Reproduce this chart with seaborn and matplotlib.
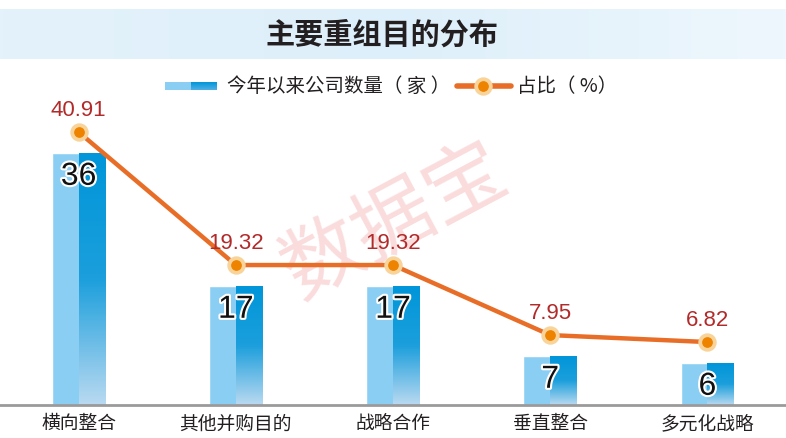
import numpy as np
import pandas as pd
import seaborn as sns
import matplotlib.pyplot as plt
import matplotlib.patheffects as pe
from matplotlib.colors import LinearSegmentedColormap
from matplotlib.patches import Rectangle
from matplotlib.lines import Line2D

categories = ['横向整合', '其他并购目的', '战略合作', '垂直整合', '多元化战略']
counts = [36, 17, 17, 7, 6]
pcts = [40.91, 19.32, 19.32, 7.95, 6.82]
pct_labels = ['40.91', '19.32', '19.32', '7.95', '6.82']

sns.set_style('white')
plt.rcParams['font.family'] = ['Noto Sans CJK SC', 'DejaVu Sans']

W, H = 786, 438
fig = plt.figure(figsize=(W / 100, H / 100), dpi=100)

# title band
band = fig.add_axes([0, 1 - 59 / H, 1, 50 / H])
band_cmap = LinearSegmentedColormap.from_list('band', ['#e4f2fb', '#ddeffa', '#eef7fd'])
band.imshow(np.linspace(0, 1, 256)[None, :], aspect='auto', cmap=band_cmap, extent=[0, 1, 0, 1])
band.axis('off')
fig.text(382 / W, 1 - 35 / H, '主要重组目的分布', ha='center', va='center',
         fontsize=21, fontweight='bold', color='#231f20')

# watermark
fig.text(395 / W, 1 - 222 / H, '数据宝', rotation=28, ha='center', va='center',
         fontsize=58, color='#fadcdc', zorder=-1)

# legend drawn by hand
leg = fig.add_axes([0, 0, 1, 1])
leg.patch.set_visible(False)
leg.axis('off')
leg.add_patch(Rectangle((165, 82), 26, 8, color='#8acff3', lw=0))
leg_cmap = LinearSegmentedColormap.from_list('lg', ['#0096d9', '#4fb0e4'])
leg.imshow(np.linspace(0, 1, 50)[:, None], aspect='auto', cmap=leg_cmap, extent=[191, 217, 90, 82])
leg.text(227, 86, '今年以来公司数量（ 家 ）', va='center', fontsize=14, color='#231f20')
leg.add_line(Line2D([457, 511], [86, 86], color='#e86e28', lw=4, solid_capstyle='round'))
leg.scatter([483], [86], s=150, color='#f8d49a', zorder=3)
leg.scatter([483], [86], s=45, color='#ee8300', zorder=4)
leg.text(517, 86, '占比（ %）', va='center', fontsize=14, color='#231f20')
leg.set_xlim(0, W)
leg.set_ylim(H, 0)

# main chart
ax = fig.add_axes([0, 1 - 405 / H, 1, 295 / H])
ax.patch.set_alpha(0)
df = pd.DataFrame({'cat': categories, 'count': counts})
sns.barplot(data=df, x='cat', y='count', color='#8acff3', width=0.34,
            saturation=1, ax=ax, zorder=2)

bar_cmap = LinearSegmentedColormap.from_list(
    'bar', [(0, '#0096d9'), (0.5, '#1c9fdc'), (1, '#b8d9f1')])
for i, v in enumerate(counts):
    ax.imshow(np.linspace(0, 1, 100)[:, None], aspect='auto', cmap=bar_cmap,
              extent=[i, i + 0.17, 0, v], zorder=3)
    ax.text(i, v - 3.4, str(v), ha='center', va='center', fontsize=23,
            family='Liberation Sans', color='#111111', zorder=6,
            path_effects=[pe.withStroke(linewidth=3, foreground='white')])

ax.set_xlim(-0.5, 4.5)
ax.set_ylim(0, 295 / 7)
ax.set_xlabel('')
ax.set_ylabel('')
ax.set_yticks([])
ax.tick_params(axis='x', length=0, pad=6, labelsize=13.5, labelcolor='#231f20')
for s in ['top', 'left', 'right']:
    ax.spines[s].set_visible(False)
ax.spines['bottom'].set_color('#9a9a9a')
ax.spines['bottom'].set_linewidth(2)
ax.spines['bottom'].set_zorder(10)

ax2 = ax.twinx()
xs = np.arange(len(categories))
sns.lineplot(x=xs, y=pcts, color='#e86e28', lw=3.2, ax=ax2, zorder=4)
ax2.scatter(xs, pcts, s=150, color='#f8d49a', zorder=5)
ax2.scatter(xs, pcts, s=45, color='#ee8300', zorder=6)
for x, p, lab in zip(xs, pcts, pct_labels):
    ax2.text(x, p + 3.5, lab, ha='center', va='center', fontsize=16,
             family='Liberation Sans', color='#b22a2a', zorder=7)
ax2.set_ylim(-3.4, 295 / 6.16 - 3.4)
ax2.set_xlim(-0.5, 4.5)
ax2.set_yticks([])
ax2.set_ylabel('')
for s in ['top', 'left', 'right', 'bottom']:
    ax2.spines[s].set_visible(False)

fig.savefig('out.png', dpi=100)
